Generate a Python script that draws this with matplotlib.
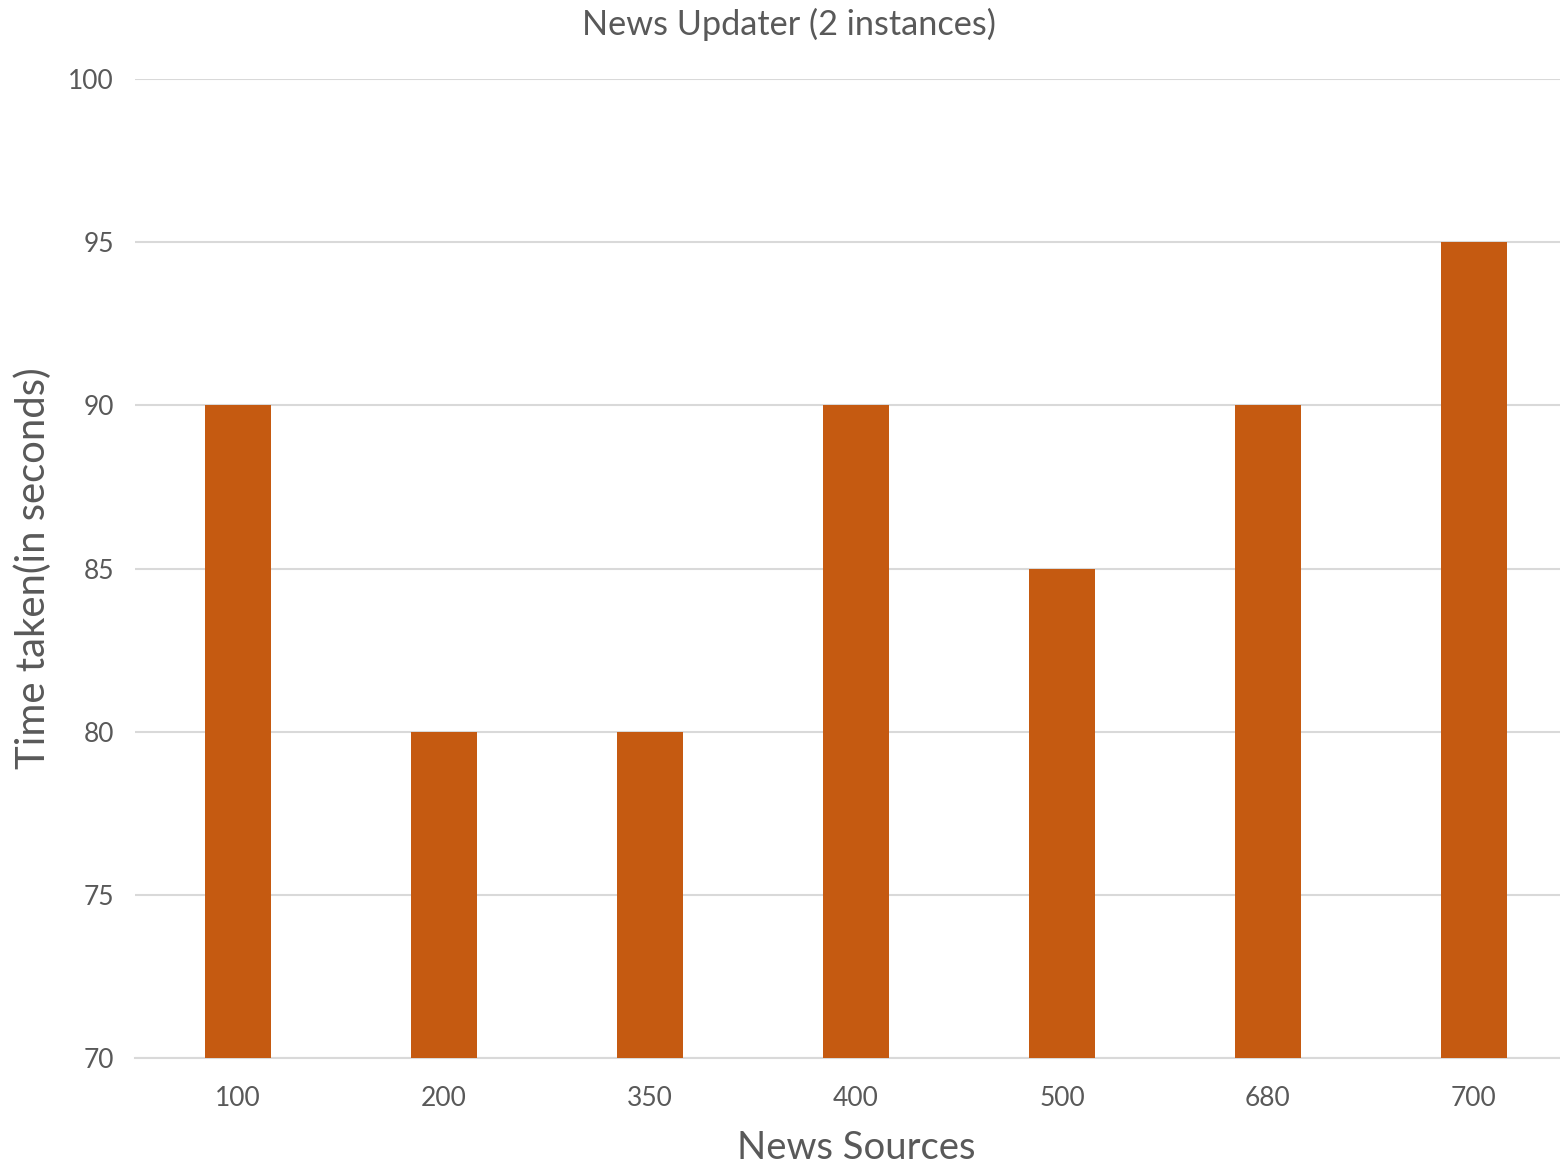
import matplotlib.pyplot as plt

# news sources tested and time taken per run
sources = ['100', '200', '350', '400', '500', '680', '700']
time_taken = [90, 80, 80, 90, 85, 90, 95]

plt.rcParams['font.family'] = ['Lato', 'DejaVu Sans']
text_col = '#595959'

fig = plt.figure(figsize=(15.6, 11.67), dpi=100)
ax = fig.add_axes([0.0865, 0.0934, 0.9244, 0.8389])

x = range(len(sources))
ax.bar(x, time_taken, width=0.32, color='#C55A11', zorder=3)

ax.set_xlim(-0.5, len(sources) - 0.5)
ax.set_ylim(70, 100)
ax.set_yticks(range(70, 101, 5))
ax.set_xticks(list(x))
ax.set_xticklabels(sources)

ax.grid(axis='y', color='#D9D9D9', linewidth=1.5, zorder=0)
for s in ['top', 'right', 'left']:
    ax.spines[s].set_visible(False)
ax.spines['bottom'].set_color('#D9D9D9')
ax.spines['bottom'].set_linewidth(1.5)
ax.tick_params(length=0, labelsize=19, colors=text_col)
ax.tick_params(axis='y', pad=15)
ax.tick_params(axis='x', pad=20)

fig.text(0.506, 0.979, 'News Updater (2 instances)', ha='center', va='center',
         fontsize=24.7, color=text_col)
fig.text(0.549, 0.016, 'News Sources', ha='center', va='center',
         fontsize=27.5, color=text_col)
fig.text(0.009, 0.513, 'Time taken(in seconds)', ha='left', va='center',
         rotation=90, fontsize=28.8, color=text_col)

fig.savefig('out.png', dpi=100)
